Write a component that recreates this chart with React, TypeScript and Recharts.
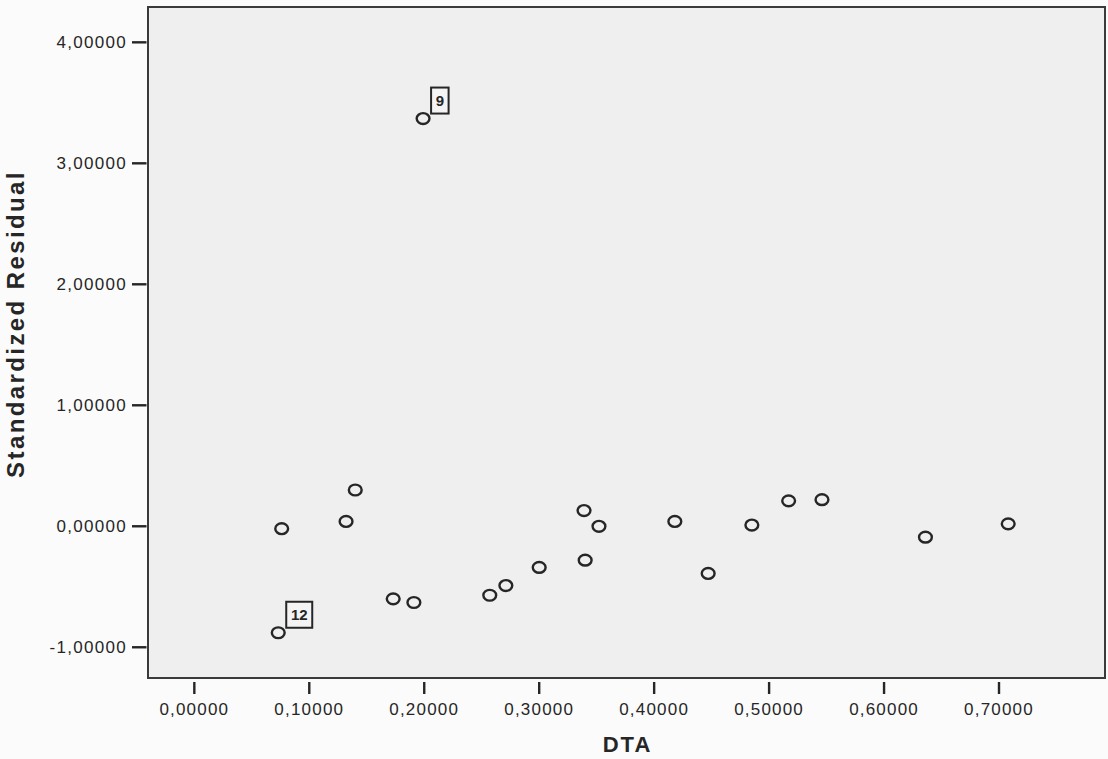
import { ReferenceArea, Scatter, ScatterChart, XAxis, YAxis } from 'recharts';

const dtaValues = [0.073, 0.076, 0.132, 0.14, 0.173, 0.191, 0.199, 0.257, 0.271, 0.3, 0.339, 0.34, 0.352, 0.418, 0.447, 0.485, 0.517, 0.546, 0.636, 0.708];
const residualValues = [-0.88, -0.02, 0.04, 0.3, -0.6, -0.63, 3.37, -0.57, -0.49, -0.34, 0.13, -0.28, 0.0, 0.04, -0.39, 0.01, 0.21, 0.22, -0.09, 0.02];
const caseLabels = ['12', '', '', '', '', '', '9', '', '', '', '', '', '', '', '', '', '', '', '', ''];
const xTicks = [0, 0.1, 0.2, 0.3, 0.4, 0.5, 0.6, 0.7];
const yTicks = [-1, 0, 1, 2, 3, 4];
const xDomain = [-0.0403, 0.7922];
const yDomain = [-1.254, 4.292];

const points = dtaValues.map((dta, i) => ({ dta, residual: residualValues[i], label: caseLabels[i] }));

const fmt = (v: number) => v.toFixed(5).replace('.', ',');
const FONT = '"Liberation Sans", Arial, sans-serif';
const INK = '#262626';

function PointShape(props: any) {
  const { cx, cy, payload } = props;
  const label: string = payload?.label || '';
  const w = 9 + label.length * 8.5;
  return (
    <g>
      <ellipse cx={cx} cy={cy} rx={6.4} ry={5.4} fill="none" stroke={INK} strokeWidth={2.4} />
      {label && (
        <g>
          <rect x={cx + 8} y={cy - 31} width={w} height={26} fill="#f4f4f4" stroke={INK} strokeWidth={2} />
          <text x={cx + 8 + w / 2} y={cy - 12.5} textAnchor="middle" fontFamily={FONT} fontSize={15} fontWeight="bold" fill={INK}>
            {label}
          </text>
        </g>
      )}
    </g>
  );
}

function XTick(props: any) {
  const { x, y, payload } = props;
  return (
    <g>
      <line x1={x} x2={x} y1={y + 4} y2={y + 16} stroke={INK} strokeWidth={2.4} />
      <text x={x} y={y + 37} textAnchor="middle" fontFamily={FONT} fontSize={17} letterSpacing={1.2} fill={INK}>
        {fmt(payload.value)}
      </text>
    </g>
  );
}

function YTick(props: any) {
  const { x, y, payload } = props;
  return (
    <g>
      <line x1={x - 16} x2={x - 1.5} y1={y} y2={y} stroke={INK} strokeWidth={2.4} />
      <text x={x - 21} y={y} dy="0.36em" textAnchor="end" fontFamily={FONT} fontSize={17} letterSpacing={1.3} fill={INK}>
        {fmt(payload.value)}
      </text>
    </g>
  );
}

export default function App() {
  return (
    <div style={{ position: 'absolute', left: 0, top: 0, width: 1108, height: 759, background: '#fbfbfb' }}>
      <ScatterChart width={1108} height={759} margin={{ top: 7, right: 3, bottom: 0, left: 0 }}>
        <ReferenceArea
          x1={xDomain[0]}
          x2={xDomain[1]}
          y1={yDomain[0]}
          y2={yDomain[1]}
          fill="#efefef"
          fillOpacity={1}
          stroke="#3a3a3a"
          strokeWidth={2}
        />
        <XAxis
          type="number"
          dataKey="dta"
          domain={xDomain}
          ticks={xTicks}
          allowDataOverflow
          height={81}
          tickSize={0}
          tickMargin={0}
          axisLine={false}
          tickLine={false}
          tick={<XTick />}
          label={{
            content: () => (
              <text x={627.5} y={752} textAnchor="middle" fontFamily={FONT} fontSize={22} fontWeight="bold" letterSpacing={2} fill={INK}>
                DTA
              </text>
            ),
          }}
        />
        <YAxis
          type="number"
          dataKey="residual"
          domain={yDomain}
          ticks={yTicks}
          allowDataOverflow
          width={148}
          tickSize={0}
          tickMargin={0}
          axisLine={false}
          tickLine={false}
          tick={<YTick />}
          label={{
            content: () => (
              <text
                transform="translate(24,324) rotate(-90)"
                textAnchor="middle"
                fontFamily={FONT}
                fontSize={24}
                fontWeight="bold"
                letterSpacing={2.4}
                fill={INK}
              >
                Standardized Residual
              </text>
            ),
          }}
        />
        <Scatter data={points} shape={<PointShape />} isAnimationActive={false} />
      </ScatterChart>
    </div>
  );
}
